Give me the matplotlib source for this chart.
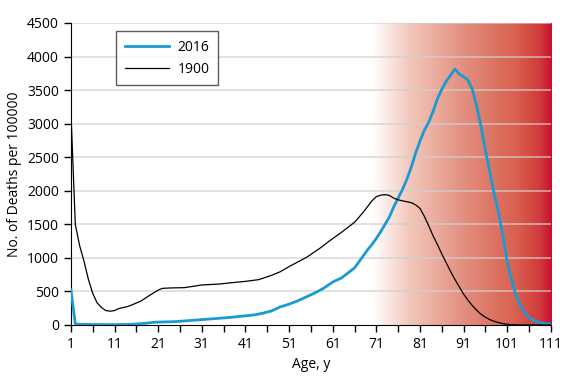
import numpy as np
import matplotlib
matplotlib.use("Agg")
import matplotlib.pyplot as plt
from matplotlib.colors import LinearSegmentedColormap

plt.rcParams["font.family"] = ["Open Sans", "DejaVu Sans"]

# deaths per 100000 by age
ages_2016 = [1, 2, 3, 5, 8, 11, 14, 16, 18, 20, 22, 25, 28, 31, 34, 37, 40,
             43, 45, 47, 49, 51, 53, 55, 57, 59, 61, 63, 65, 66, 67, 68, 69,
             70, 71, 72, 73, 74, 75, 76, 77, 78, 79, 80, 81, 82, 83, 84, 85,
             86, 87, 88, 89, 90, 91, 92, 93, 94, 95, 96, 97, 98, 99, 100, 101,
             102, 103, 104, 105, 106, 107, 108, 109, 110, 111]
deaths_2016 = [525, 15, 10, 8, 6, 6, 8, 15, 25, 40, 45, 50, 65, 80, 95, 110,
               130, 150, 175, 210, 270, 310, 360, 420, 480, 550, 640, 700, 800,
               850, 940, 1030, 1120, 1200, 1290, 1390, 1500, 1610, 1760, 1890,
               2020, 2170, 2350, 2560, 2740, 2900, 3020, 3180, 3370, 3510, 3630,
               3720, 3815, 3740, 3700, 3650, 3510, 3260, 2960, 2600, 2280, 1960,
               1680, 1330, 940, 670, 440, 290, 180, 110, 70, 42, 28, 20, 15]

ages_1900 = [1, 2, 3, 4, 5, 6, 7, 8, 9, 10, 11, 12, 13, 14, 15, 17, 19, 21, 22,
             24, 27, 31, 35, 38, 41, 44, 47, 49, 51, 55, 58, 60, 63, 66, 68, 70,
             71, 72, 73, 74, 75, 76, 77, 79, 80, 81, 82, 83, 84, 85, 86, 87, 88,
             89, 90, 91, 92, 93, 94, 95, 96, 97, 98, 99, 100, 101, 102, 104, 111]
deaths_1900 = [3180, 1500, 1180, 950, 680, 470, 330, 260, 215, 205, 215, 245,
               260, 275, 300, 355, 440, 520, 546, 552, 556, 596, 610, 631, 650,
               675, 740, 794, 870, 1008, 1140, 1240, 1380, 1530, 1680, 1850,
               1912, 1935, 1942, 1930, 1890, 1865, 1850, 1823, 1790, 1738, 1620,
               1480, 1330, 1200, 1060, 930, 800, 680, 570, 460, 370, 290, 220,
               160, 115, 80, 55, 35, 20, 10, 5, 0, 0]

x_ticks = list(range(1, 112, 10))
y_ticks = list(range(0, 4501, 500))

fig = plt.figure(figsize=(5.72, 3.77), dpi=100)
ax = fig.add_axes([0.124, 0.138, 0.839, 0.801])

# red gradient for old ages
cmap = LinearSegmentedColormap.from_list(
    "oldage",
    [(0.0, "#ffffff"), (0.2, "#f3c8bc"), (0.5, "#e39080"),
     (0.8, "#d8604f"), (0.93, "#d03c3c"), (1.0, "#c8102e")])
grad = np.linspace(0, 1, 256).reshape(1, -1)
ax.imshow(grad, cmap=cmap, aspect="auto", extent=[70.2, 111, 0, 4500],
          zorder=0, interpolation="bilinear")

for y in y_ticks[1:]:
    ax.axhline(y, color="#d0d0d0", alpha=0.75, lw=1.2, zorder=1)

ax.plot(ages_2016, deaths_2016, color="#1b9ad2", lw=2, label="2016", zorder=3)
ax.plot(ages_1900, deaths_1900, color="black", lw=0.9, label="1900", zorder=3)

ax.set_xlim(1, 111)
ax.set_ylim(0, 4500)
ax.set_xticks(x_ticks)
ax.set_xticks(list(range(6, 112, 10)), minor=True)
ax.set_yticks(y_ticks)
ax.tick_params(axis="both", direction="out", length=5, width=1,
               labelsize=10, colors="black")
ax.tick_params(axis="x", which="minor", direction="out", length=5, width=1)

for side in ["top", "right"]:
    ax.spines[side].set_visible(False)

ax.set_xlabel("Age, y", fontsize=10)
ax.set_ylabel("No. of Deaths per 100000", fontsize=10)

leg = ax.legend(loc="upper left", bbox_to_anchor=(0.08, 0.995), fontsize=10,
                frameon=True, fancybox=False, edgecolor="#333333",
                handlelength=3.2, borderpad=0.6, handletextpad=0.6)
leg.get_frame().set_linewidth(1)

fig.savefig("out.png", dpi=100)
